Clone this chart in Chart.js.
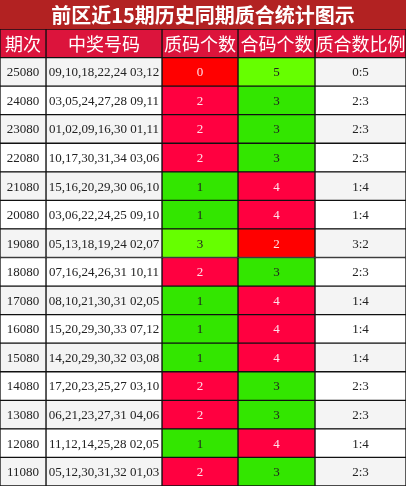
<!DOCTYPE html>
<html>
<head>
<meta charset="utf-8">
<script src="https://cdn.jsdelivr.net/npm/chart.js@4"></script>
<style>
  html, body { margin: 0; padding: 0; background: #fff; }
  #wrap { width: 406px; height: 486px; }
</style>
</head>
<body>
<div id="wrap"><canvas id="chart"></canvas></div>
<script>
// Table data
const title = '前区近15期历史同期质合统计图示';
const headers = ['期次', '中奖号码', '质码个数', '合码个数', '质合数比例'];
const periods = ['25080', '24080', '23080', '22080', '21080', '20080', '19080', '18080', '17080', '16080', '15080', '14080', '13080', '12080', '11080'];
const numbers = [
  '09,10,18,22,24 03,12', '03,05,24,27,28 09,11', '01,02,09,16,30 01,11', '10,17,30,31,34 03,06',
  '15,16,20,29,30 06,10', '03,06,22,24,25 09,10', '05,13,18,19,24 02,07', '07,16,24,26,31 10,11',
  '08,10,21,30,31 02,05', '15,20,29,30,33 07,12', '14,20,29,30,32 03,08', '17,20,23,25,27 03,10',
  '06,21,23,27,31 04,06', '11,12,14,25,28 02,05', '05,12,30,31,32 01,03'
];
const primeCounts = [0, 2, 2, 2, 1, 1, 3, 2, 1, 1, 1, 2, 2, 1, 2];
const compositeCounts = [5, 3, 3, 3, 4, 4, 2, 3, 4, 4, 4, 3, 3, 4, 3];

// column colours keyed by count
const primeColors = { 0: '#ff0000', 1: '#33e600', 2: '#ff0040', 3: '#66ff00' };
const compositeColors = { 2: '#ff0000', 3: '#33e600', 4: '#ff0040', 5: '#66ff00' };
const colEdges = [0, 46, 162, 238, 315, 406];

const rowLabels = ['header', ...periods];
const n = rowLabels.length;
const zebra = i => (i % 2 === 0 ? '#f4f4f4' : '#ffffff');

const cellText = [headers, ...periods.map((p, i) => [
  p, numbers[i], String(primeCounts[i]), String(compositeCounts[i]), primeCounts[i] + ':' + compositeCounts[i]
])];

const colBg = c => rowLabels.map((_, r) => {
  if (r === 0) return '#dc143c';
  const i = r - 1;
  if (c === 2) return primeColors[primeCounts[i]];
  if (c === 3) return compositeColors[compositeCounts[i]];
  return zebra(i);
});

const datasets = headers.map((h, c) => ({
  label: h,
  data: rowLabels.map(() => [colEdges[c], colEdges[c + 1]]),
  backgroundColor: colBg(c),
  borderColor: '#111',
  borderWidth: 1,
  borderSkipped: false,
  barPercentage: 1,
  categoryPercentage: 1,
  grouped: false,
}));

const tablePlugin = {
  id: 'table',
  beforeDraw(chart) {
    const { ctx } = chart;
    ctx.save();
    ctx.fillStyle = '#b22222';
    ctx.fillRect(0, 0, chart.width, chart.chartArea.top);
    ctx.fillStyle = '#fff';
    ctx.font = 'bold 20px "Noto Sans CJK SC", sans-serif';
    ctx.textAlign = 'center';
    ctx.textBaseline = 'middle';
    ctx.fillText(title, chart.width / 2, chart.chartArea.top / 2 + 1);
    ctx.restore();
  },
  afterDatasetsDraw(chart) {
    const { ctx } = chart;
    const ys = chart.scales.y;
    ctx.save();
    ctx.textAlign = 'center';
    ctx.textBaseline = 'middle';
    chart.data.datasets.forEach((ds, c) => {
      const meta = chart.getDatasetMeta(c);
      meta.data.forEach((bar, r) => {
        const y = ys.getPixelForValue(r);
        const x = (bar.x + bar.base) / 2;
        const txt = cellText[r][c];
        if (r === 0) {
          ctx.fillStyle = '#fff';
          ctx.font = '18px "Noto Sans CJK SC", sans-serif';
        } else {
          const bg = ds.backgroundColor[r];
          ctx.fillStyle = (c === 2 || c === 3) && bg.startsWith('#ff') ? '#ffe0e8' : '#222';
          ctx.font = '13px "Liberation Serif", serif';
        }
        ctx.fillText(txt, x, y + 1);
      });
    });
    ctx.restore();
  }
};

new Chart(document.getElementById('chart'), {
  type: 'bar',
  data: { labels: rowLabels, datasets },
  options: {
    indexAxis: 'y',
    responsive: true,
    maintainAspectRatio: false,
    animation: false,
    layout: { padding: { top: 29, left: 0, right: 0, bottom: 0 } },
    plugins: { legend: { display: false }, tooltip: { enabled: false } },
    scales: {
      x: { type: 'linear', min: 0, max: 406, display: false },
      y: { display: false, offset: true }
    }
  },
  plugins: [tablePlugin]
});
</script>
</body>
</html>
